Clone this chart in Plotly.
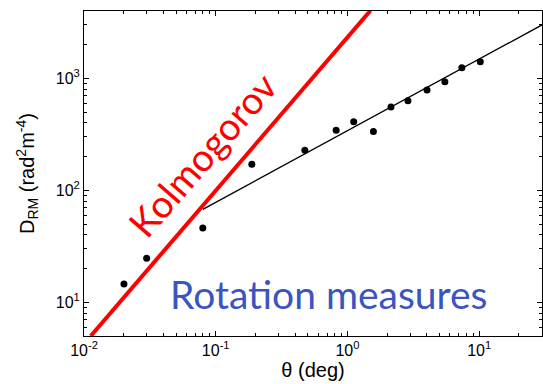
import numpy as np
import plotly.graph_objects as go

# Data
theta_deg = [0.0201, 0.0299, 0.0798, 0.188, 0.475, 0.821, 1.116, 1.574, 2.14, 2.88, 4.02, 5.49, 7.39, 10.2]
d_rm = [14.6, 24.7, 46.2, 171, 228, 344, 409, 335, 556, 630, 789, 935, 1245, 1409]

# Fitted broken power law (upper segment)
fit_theta = [0.0798, 30]
fit_d = [67.7, 3005]

# Kolmogorov line
kolmo_theta = [0.01125, 1.493]
kolmo_d = [5.0, 4030]

x_tickvals = [0.01, 0.1, 1, 10]
x_ticktext = ["10<sup>-2</sup>", "10<sup>-1</sup>", "10<sup>0</sup>", "10<sup>1</sup>"]
y_tickvals = [10, 100, 1000]
y_ticktext = ["10<sup>1</sup>", "10<sup>2</sup>", "10<sup>3</sup>"]

x_minor = [m * 10.0 ** e for e in range(-2, 2) for m in range(2, 10)]
y_minor = [m * 10.0 ** e for e in range(0, 4) for m in range(2, 10)]

fig = go.Figure()
fig.add_trace(go.Scatter(x=fit_theta, y=fit_d, mode="lines",
                         line=dict(color="black", width=1.3), showlegend=False))
fig.add_trace(go.Scatter(x=kolmo_theta, y=kolmo_d, mode="lines",
                         line=dict(color="#ff0000", width=4), showlegend=False))
fig.add_trace(go.Scatter(x=theta_deg, y=d_rm, mode="markers",
                         marker=dict(color="black", size=7), showlegend=False))

tick_font = dict(family="Liberation Sans, Arial, sans-serif", size=16, color="black")
title_font = dict(family="Liberation Sans, Arial, sans-serif", size=20, color="black")

fig.update_xaxes(type="log", range=[-2, np.log10(30)],
                 tickmode="array", tickvals=x_tickvals, ticktext=x_ticktext,
                 ticks="inside", ticklen=5, tickcolor="black",
                 showline=True, linecolor="black", linewidth=1, mirror="ticks",
                 showgrid=False, zeroline=False, tickfont=tick_font,
                 minor=dict(tickmode="array", tickvals=x_minor, ticks="inside",
                            ticklen=3, tickcolor="black", showgrid=False),
                 title=dict(text="θ (deg)", font=title_font, standoff=3))
fig.update_yaxes(type="log", range=[np.log10(5), np.log10(4000)],
                 tickmode="array", tickvals=y_tickvals, ticktext=y_ticktext,
                 ticks="inside", ticklen=5, tickcolor="black",
                 showline=True, linecolor="black", linewidth=1, mirror="ticks",
                 showgrid=False, zeroline=False, tickfont=tick_font,
                 minor=dict(tickmode="array", tickvals=y_minor, ticks="inside",
                            ticklen=3, tickcolor="black", showgrid=False),
                 title=dict(text="D<sub>RM</sub> (rad<sup>2</sup>m<sup>-4</sup>)", font=title_font, standoff=15))

fig.add_annotation(x=0.258, y=0.56, xref="paper", yref="paper", text="Kolmogorov",
                   showarrow=False, textangle=-49, xanchor="center", yanchor="middle",
                   font=dict(family="Lato, sans-serif", size=38, color="#ff0000"))
fig.add_annotation(x=0.533, y=0.13, xref="paper", yref="paper", text="Rotation measures",
                   showarrow=False, xanchor="center", yanchor="middle",
                   font=dict(family="Lato, sans-serif", size=39, color="#3b55c0"))

fig.update_layout(width=543, height=384, margin=dict(l=84, r=1, t=11, b=48),
                  plot_bgcolor="white", paper_bgcolor="white")

fig.write_html("out.html")
